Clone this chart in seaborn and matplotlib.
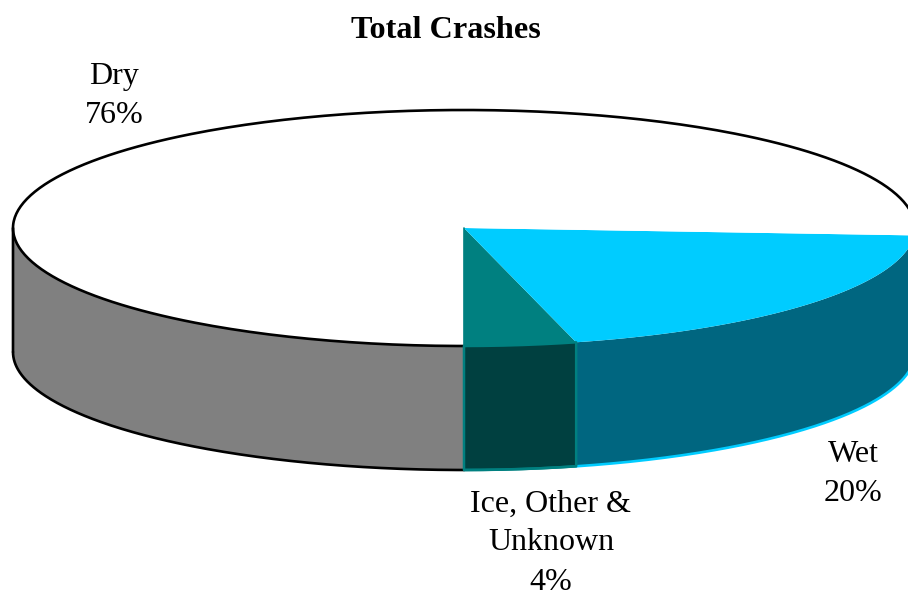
import numpy as np
import matplotlib
matplotlib.use('Agg')
import matplotlib.pyplot as plt
import seaborn as sns

# shares, going round from the front of the pie
categories = ['Ice, Other &\nUnknown', 'Wet', 'Dry']
shares = [4, 20, 76]
top_colors = ['#008080', '#00CCFF', '#FFFFFF']
side_colors = ['#004040', '#006680', '#808080']
edge_colors = ['#008080', '#00CCFF', '#000000']

sns.set_theme(style='white')
plt.rcParams['font.family'] = ['Liberation Serif', 'DejaVu Serif']

fig, ax = plt.subplots(figsize=(9.08, 5.95), dpi=100)
ax.set_position([0, 0, 1, 1])
ax.set_xlim(0, 908)
ax.set_ylim(595, 0)
ax.axis('off')

# pie geometry in pixels
cx, cy = 464, 228
rx, ry = 451, 118
depth = 124


def rim(a0, a1):
    t = np.radians(np.linspace(a0, a1, 300))
    return cx + rx * np.sin(t), cy + ry * np.cos(t)


edges = np.cumsum([0] + shares) / sum(shares) * 360

for i, cat in enumerate(categories):
    a0, a1 = edges[i], edges[i + 1]
    # top face
    x, y = rim(a0, a1)
    ax.fill(np.r_[cx, x], np.r_[cy, y], color=top_colors[i], lw=0, zorder=3)

    # side wall only for the part that faces the viewer (a < 90 or a > 270)
    ranges = [(a0, min(a1, 90))] if a0 < 90 else []
    if a1 > 270:
        ranges.append((max(a0, 270), a1))
    for r0, r1 in ranges:
        sx, sy = rim(r0, r1)
        ax.fill(np.r_[sx, sx[::-1]], np.r_[sy, sy[::-1] + depth],
                color=side_colors[i], lw=0, zorder=2)
        # bottom rim and verticals
        sns.lineplot(x=sx, y=sy + depth, sort=False, estimator=None, ax=ax,
                     color=edge_colors[i], lw=1.9, zorder=4, solid_capstyle='round')

# Dry: outline of the whole rim and the left silhouette
bx, by = rim(edges[2], 360)
sns.lineplot(x=bx, y=by, sort=False, estimator=None, ax=ax, color='black', lw=1.9, zorder=5)
ax.plot([cx - rx, cx - rx], [cy, cy + depth], color='black', lw=1.9, zorder=5,
        solid_capstyle='round', snap=False)

# teal frame round the Ice side wall
ix, iy = rim(edges[0], edges[1])
ax.plot(np.r_[ix, ix[::-1], ix[0]], np.r_[iy, iy[::-1] + depth, iy[0]],
        color='#008080', lw=1.8, zorder=6)
ax.plot([cx, cx], [cy, cy + ry], color='#008080', lw=1.2, zorder=6)

ax.text(446, 30, 'Total Crashes', ha='center', va='center', fontsize=23.2, fontweight='bold', color='black')
ax.text(114, 96, 'Dry\n76%', ha='center', va='center', fontsize=23, color='black', linespacing=1.46)
ax.text(853, 474, 'Wet\n20%', ha='center', va='center', fontsize=23, color='black', linespacing=1.46)
ax.text(551, 543, 'Ice, Other &\nUnknown\n4%', ha='center', va='center', fontsize=23, color='black', linespacing=1.46)

fig.savefig('out.png', dpi=100)
